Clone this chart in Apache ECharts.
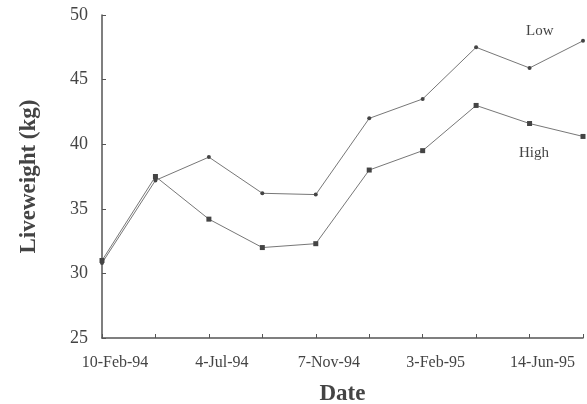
<!DOCTYPE html>
<html><head><meta charset="utf-8">
<script src="https://cdn.jsdelivr.net/npm/echarts@6/dist/echarts.min.js"></script>
<style>html,body{margin:0;padding:0;background:#fff}#c{width:587px;height:404px}</style>
</head><body><div id="c"></div>
<script>
const tickLabels = ['10-Feb-94', '', '4-Jul-94', '', '7-Nov-94', '', '3-Feb-95', '', '14-Jun-95', ''];
const lowValues  = [30.8, 37.2, 39.0, 36.2, 36.1, 42.0, 43.5, 47.5, 45.9, 48.0];
const highValues = [31.0, 37.5, 34.2, 32.0, 32.3, 38.0, 39.5, 43.0, 41.6, 40.6];
const yTicks = [25, 30, 35, 40, 45, 50];

const font = 'Liberation Serif, Times New Roman, serif';
const chart = echarts.init(document.getElementById('c'), null, {renderer: 'canvas'});
const toPts = arr => arr.map((v, i) => [i, v]);
chart.setOption({
  animation: false,
  backgroundColor: '#fff',
  grid: {left: 102, right: 4, top: 15, bottom: 66, containLabel: false, outerBoundsMode: 'none'},
  xAxis: {
    type: 'value', min: 0, max: 9, interval: 1,
    name: 'Date', nameLocation: 'middle', nameGap: 45,
    nameTextStyle: {fontFamily: font, fontSize: 23, fontWeight: 'bold', color: '#444'},
    axisLine: {show: true, lineStyle: {color: '#555', width: 1.5}},
    axisTick: {show: true, inside: true, length: 4, lineStyle: {color: '#555'}},
    splitLine: {show: false},
    axisLabel: {
      fontFamily: font, fontSize: 16, color: '#444', margin: 17,
      padding: [0, 0, 0, 26],
      formatter: v => tickLabels[v] || ''
    }
  },
  yAxis: {
    type: 'value', min: yTicks[0], max: yTicks[yTicks.length - 1], interval: 5,
    name: 'Liveweight (kg)', nameLocation: 'middle', nameGap: 61,
    nameTextStyle: {fontFamily: font, fontSize: 23, fontWeight: 'bold', color: '#444'},
    axisLine: {show: true, lineStyle: {color: '#555', width: 1.5}},
    axisTick: {show: true, inside: true, length: 4, lineStyle: {color: '#555'}},
    splitLine: {show: false},
    axisLabel: {fontFamily: font, fontSize: 18, color: '#444', margin: 14}
  },
  series: [
    {
      name: 'Low', type: 'line', data: toPts(lowValues),
      symbol: 'circle', symbolSize: 4,
      lineStyle: {color: '#777', width: 1},
      itemStyle: {color: '#444'}
    },
    {
      name: 'High', type: 'line', data: toPts(highValues),
      symbol: 'rect', symbolSize: 5,
      lineStyle: {color: '#777', width: 1},
      itemStyle: {color: '#444'}
    }
  ],
  graphic: [
    {type: 'text', left: 526, top: 24, style: {text: 'Low', fontFamily: font, fontSize: 15, fill: '#444'}},
    {type: 'text', left: 519, top: 146, style: {text: 'High', fontFamily: font, fontSize: 15, fill: '#444'}}
  ]
});
</script></body></html>
